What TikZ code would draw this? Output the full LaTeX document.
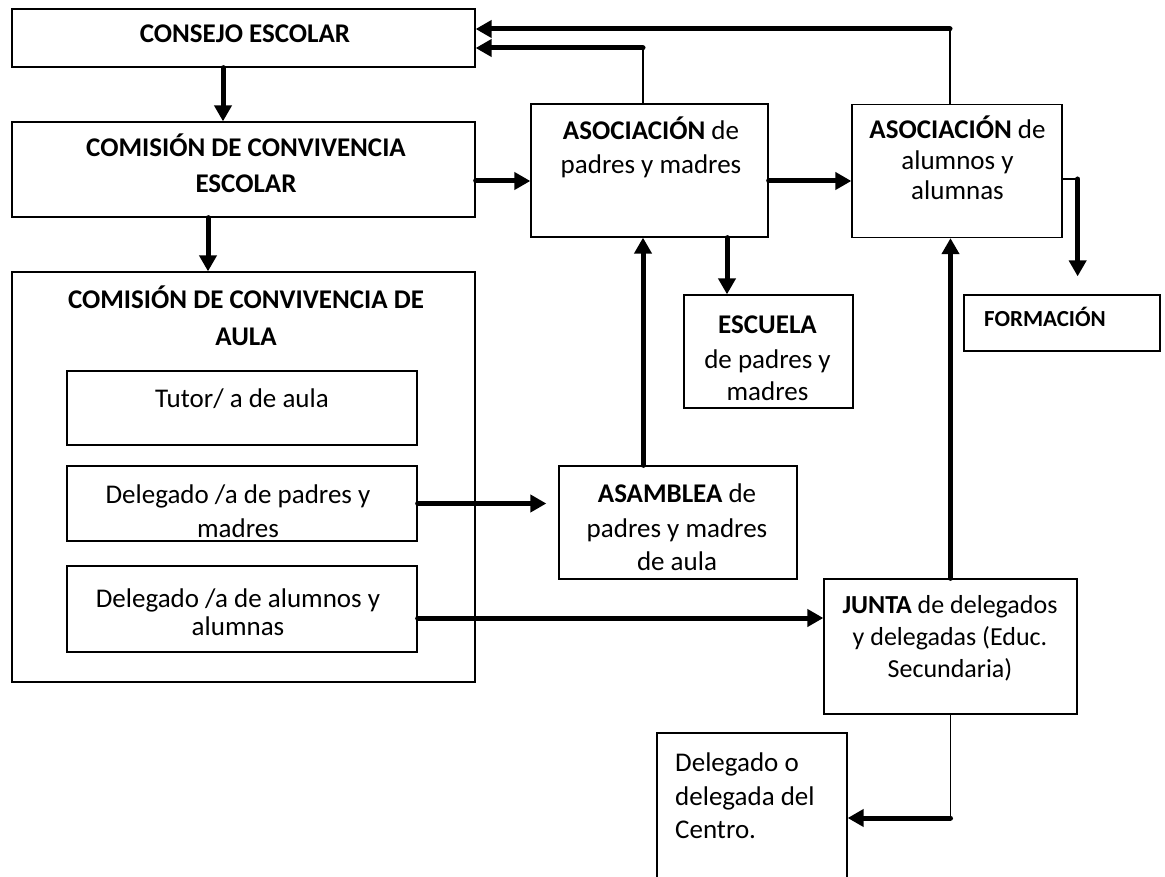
\documentclass[tikz,border=0pt]{standalone}
\usepackage{fontspec}
\setmainfont{Carlito}
\usetikzlibrary{arrows.meta}
\tikzset{
  box/.style={draw, line width=1.3pt, rectangle, inner sep=0pt},
  txt/.style={align=center, inner sep=0pt, anchor=base, font=\fontsize{27}{35}\selectfont},
  arr/.style={line width=5pt, line cap=round, -{Triangle[length=16pt,width=17pt]}},
  thinline/.style={line width=1.5pt},
}
\begin{document}
\begin{tikzpicture}[x=1pt,y=-1pt]
\useasboundingbox (0,0) rectangle (1165,877);
\clip (0,0) rectangle (1165,877);
% boxes
\node[box, minimum width=463pt, minimum height=58pt]  (cons)  at (243.5,38) {};
\node[box, minimum width=463pt, minimum height=95pt]  (cce)   at (243.5,169.5) {};
\node[box, minimum width=463pt, minimum height=410pt] (cca)   at (243.5,477) {};
\node[box, minimum width=350pt, minimum height=74pt]  (tutor) at (242,408) {};
\node[box, minimum width=350pt, minimum height=75pt]  (dpad)  at (242,503.5) {};
\node[box, minimum width=350pt, minimum height=86pt]  (dalu)  at (242,609) {};
\node[box, minimum width=237pt, minimum height=133pt] (ap)    at (649.5,170.5) {};
\node[box, minimum width=210pt, minimum height=133pt] (aa)    at (957,171) {};
\node[box, minimum width=196pt, minimum height=56pt]  (form)  at (1062,323) {};
\node[box, minimum width=169pt, minimum height=113pt] (esc)   at (768.5,351.5) {};
\node[box, minimum width=238pt, minimum height=113pt] (asam)  at (678,522.5) {};
\node[box, minimum width=253pt, minimum height=135pt] (junta) at (950.5,646.5) {};
\node[box, minimum width=190pt, minimum height=170pt] (dc)    at (752,818) {};
% texts (anchor base = last line baseline)
\node[txt] (tcons) at (245,43) {\textbf{CONSEJO ESCOLAR}};
\node[txt] (tcce) at (246,193) {\textbf{COMISIÓN DE CONVIVENCIA}\\[1pt]\textbf{ESCOLAR}};
\node[txt] (tcca) at (246,345) {\textbf{COMISIÓN DE CONVIVENCIA DE}\\[2pt]\textbf{AULA}};
\node[txt] (ttutor) at (242,407) {Tutor/ a de aula};
\node[txt] (tdpad) at (238,537) {Delegado /a de padres y\\[-1pt]madres};
\node[txt] (tdalu) at (238,635) {Delegado /a de alumnos y\\[-7pt]alumnas};
\node[txt] (tap) at (651,174) {\textbf{ASOCIACIÓN} de\\[-1pt]padres y madres};
\node[txt] (taa) at (957.5,200) {\textbf{ASOCIACIÓN} de\\[-4pt]alumnos y\\[-5pt]alumnas};
\node[txt] (tesc) at (767.5,400) {\textbf{ESCUELA}\\de padres y\\[-3pt]madres};
\node[txt] (tasam) at (677,570) {\textbf{ASAMBLEA} de\\padres y madres\\[-2pt]de aula};
\node[txt, font=\fontsize{23}{30}\selectfont] (tform) at (1045,327) {\textbf{FORMACIÓN}};
\node[txt, font=\fontsize{26}{32}\selectfont] (tjunta) at (950,677) {\textbf{JUNTA} de delegados\\y delegadas (Educ.\\Secundaria)};
\node[txt, align=left, anchor=base west] (tdc) at (675,838) {Delegado o\\[-1pt]delegada del\\[-2pt]Centro.};
% connectors
\draw[arr] ([xshift=-20.5pt]cons.south) -- ([xshift=-20.5pt]cce.north);
\draw[arr] ([xshift=-35.5pt]cce.south) -- ([xshift=-35.5pt]cca.north);
\coordinate (p1) at ([yshift=-11.5pt]cce.east);
\draw[arr] (p1) -- (p1 -| ap.west);
\coordinate (p2) at ([yshift=-10.5pt]ap.east);
\draw[arr] (p2) -- (p2 -| aa.west);
\coordinate (p3) at ([xshift=-41.5pt]esc.north);
\draw[arr] (p3 |- ap.south) -- (p3);
\coordinate (p4) at ([xshift=-35pt]asam.north);
\draw[arr] (p4) -- (p4 |- ap.south);
\coordinate (p5) at ([xshift=-12pt]asam.west);
\draw[arr] (dpad.east) -- (p5 |- dpad.east);
\coordinate (p6) at ([yshift=-9pt]dalu.east);
\draw[arr] (p6) -- (p6 -| junta.west);
\draw[arr] (junta.north) -- (junta.north |- aa.south);
% top returns
\coordinate (aatop) at ([xshift=-7pt]aa.north);
\coordinate (cons1) at ([yshift=9pt]cons.east);
\coordinate (k1) at (aatop |- cons1);
\draw[thinline] (aatop) -- (k1);
\draw[arr] (k1) -- (cons1);
\coordinate (aptop) at ([xshift=-6.5pt]ap.north);
\coordinate (cons2) at ([yshift=-10pt]cons.east);
\coordinate (k2) at (aptop |- cons2);
\draw[thinline] (aptop) -- (k2);
\draw[arr] (k2) -- (cons2);
% to formacion
\coordinate (aae) at ([yshift=-8pt]aa.east);
\coordinate (k3) at ([xshift=15pt]aae);
\coordinate (formtop) at ([yshift=18pt]form.north);
\draw[thinline] (aae) -- (k3);
\draw[arr] (k3) -- (k3 |- formtop);
% to delegado centro
\coordinate (dce) at (dc.east);
\coordinate (k4) at (junta.south |- dce);
\draw[thinline] (junta.south) -- (k4);
\draw[arr] (k4) -- (dce);
\end{tikzpicture}
\end{document}
